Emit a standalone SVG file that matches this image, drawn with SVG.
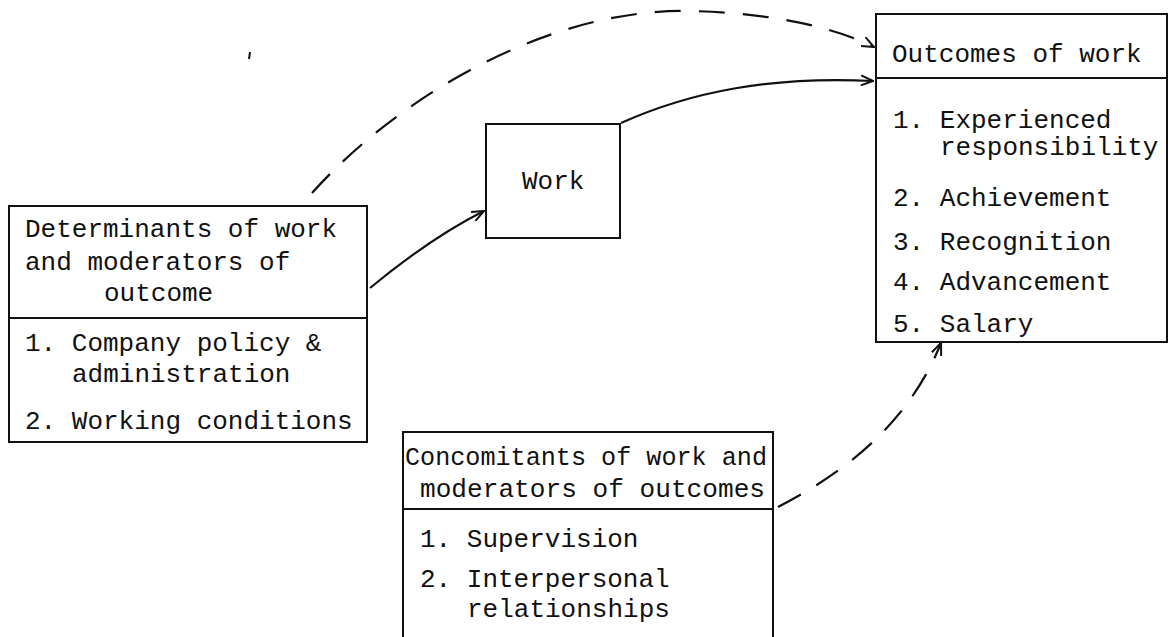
<svg xmlns="http://www.w3.org/2000/svg" width="1176" height="637" viewBox="0 0 1176 637">
<style>
.box{fill:none;stroke:#111;stroke-width:2}
.t{font-family:"Liberation Mono","DejaVu Sans Mono",monospace;font-size:26px;fill:#111}
.c{fill:none;stroke:#111;stroke-width:2.2}
.d{stroke-dasharray:26 18}
</style>
<defs>
<marker id="ah" viewBox="0 0 14 12" refX="13" refY="6" markerWidth="14" markerHeight="12" markerUnits="userSpaceOnUse" orient="auto">
<path d="M1,1 L13,6 L1,11" fill="none" stroke="#111" stroke-width="2"/>
</marker>
</defs>
<rect width="1176" height="637" fill="#fff"/>
<g id="connectors">
<path class="c" d="M370,288 C410,255 450,228 484,211" marker-end="url(#ah)"/>
<path class="c" d="M621,123 C690,92 770,76 873,81" marker-end="url(#ah)"/>
<path class="c d" d="M312,193 C400,95 550,8 690,11 C780,13 840,30 874,47" marker-end="url(#ah)"/>
<path class="c d" d="M778,507 C850,470 910,420 941,343" marker-end="url(#ah)"/>
<path d="M250,52 L249,59" stroke="#111" stroke-width="2" fill="none"/>
</g>
<g id="determinants">
<rect class="box" x="9" y="206" width="358" height="236"/>
<line class="box" x1="9" y1="318" x2="367" y2="318"/>
<text class="t" x="25" y="237">Determinants of work</text>
<text class="t" x="25" y="270">and moderators of</text>
<text class="t" x="104" y="301">outcome</text>
<text class="t" x="25" y="351">1. Company policy &amp;</text>
<text class="t" x="72" y="382">administration</text>
<text class="t" x="25" y="429">2. Working conditions</text>
</g>
<g id="work">
<rect class="box" x="486" y="124" width="134" height="114"/>
<text class="t" x="522" y="189">Work</text>
</g>
<g id="outcomes">
<rect class="box" x="876" y="14" width="291" height="328"/>
<line class="box" x1="876" y1="78" x2="1167" y2="78"/>
<text class="t" x="892" y="62">Outcomes of work</text>
<text class="t" x="893" y="128">1. Experienced</text>
<text class="t" x="940" y="155">responsibility</text>
<text class="t" x="893" y="206">2. Achievement</text>
<text class="t" x="893" y="250">3. Recognition</text>
<text class="t" x="893" y="290">4. Advancement</text>
<text class="t" x="893" y="332">5. Salary</text>
</g>
<g id="concomitants">
<path class="box" d="M403,640 L403,432 L773,432 L773,640"/>
<line class="box" x1="403" y1="509" x2="773" y2="509"/>
<text class="t" x="405" y="465" textLength="362" lengthAdjust="spacingAndGlyphs">Concomitants of work and</text>
<text class="t" x="420" y="497" textLength="345" lengthAdjust="spacingAndGlyphs">moderators of outcomes</text>
<text class="t" x="420" y="547">1. Supervision</text>
<text class="t" x="420" y="587">2. Interpersonal</text>
<text class="t" x="467" y="617">relationships</text>
</g>
</svg>
